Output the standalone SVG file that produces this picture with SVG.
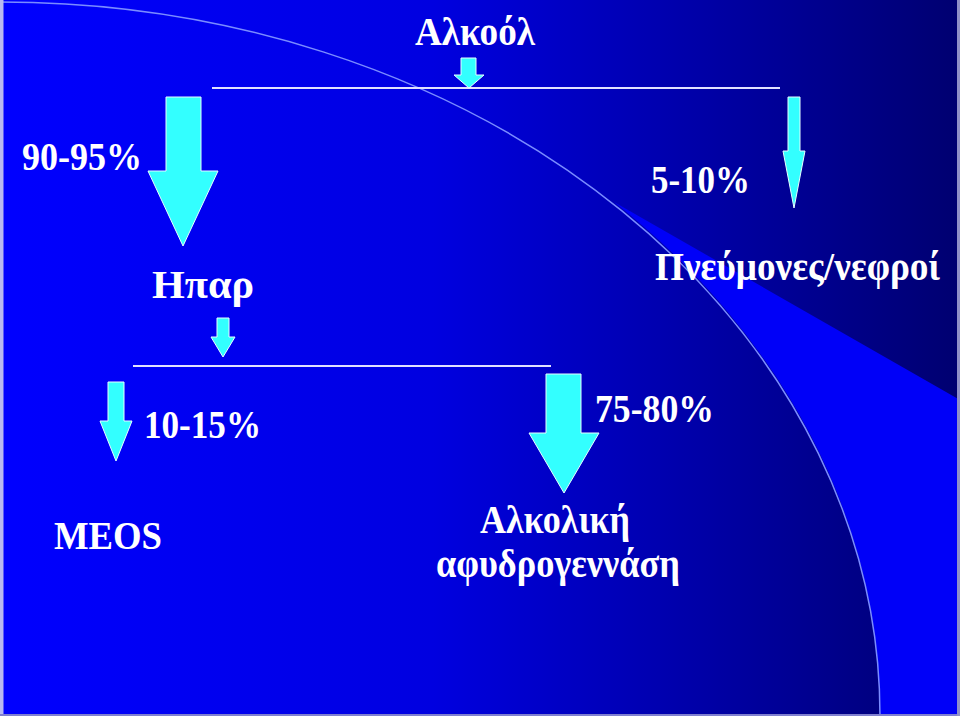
<svg xmlns="http://www.w3.org/2000/svg" width="960" height="716" viewBox="0 0 960 716">
  <defs>
    <linearGradient id="bg" x1="0" y1="0" x2="1" y2="0">
      <stop offset="0" stop-color="#0000FF"/>
      <stop offset="0.45" stop-color="#0000E0"/>
      <stop offset="1" stop-color="#000070"/>
    </linearGradient>
  </defs>
  <style>
    .t { font-family: "Liberation Serif", "Times New Roman", serif; font-weight: bold; font-size: 40px; fill: #FFFFFF; }
    .arr { fill: #33FFFF; stroke: #E6FFFF; stroke-width: 1; }
    .ln { stroke: #E0E0FF; stroke-width: 2; fill: none; }
  </style>

  <!-- background -->
  <rect x="0" y="0" width="960" height="716" fill="url(#bg)"/>
  <!-- bright wedge right of the curve and below the diagonal -->
  <path d="M614,202 L960,400 L960,716 L880,716 A880,714 0 0 0 614,202 Z" fill="#0000F8"/>
  <!-- arc line -->
  <path d="M0,2 A880,714 0 0 1 880,716" fill="none" stroke="#7A8CFF" stroke-width="1.5"/>
  <!-- frame -->
  <rect x="0" y="0" width="3.5" height="716" fill="#B8B8F0"/>
  <rect x="0" y="714" width="960" height="2" fill="#8080D0"/>
  <rect x="957" y="0" width="3" height="716" fill="#9090C8"/>

  <g id="connectors">
    <line class="ln" x1="212" y1="88" x2="780" y2="88"/>
    <line class="ln" x1="133" y1="366" x2="551" y2="366"/>
    <polygon id="arrow-top" class="arr" points="461,58 476,58 476,75 484,75 469,88 454,75 461,75"/>
    <polygon id="arrow-liver" class="arr" points="166,97 201,97 201,171 218,171 183,246 148,171 166,171"/>
    <polygon id="arrow-lungs" class="arr" points="788,97 800,97 800,151 805,151 794,208 783,151 788,151"/>
    <polygon id="arrow-hpar" class="arr" points="217,318 229,318 229,337 235,337 223,357 211,337 217,337"/>
    <polygon id="arrow-meos" class="arr" points="108,382 124,382 124,421 132,421 116,461 100,421 108,421"/>
    <polygon id="arrow-adh" class="arr" points="546,374 581,374 581,433 599,433 564,493 529,433 546,433"/>
  </g>

  <g id="node-alkool"><text class="t" x="415" y="45" textLength="120" lengthAdjust="spacingAndGlyphs">Αλκοόλ</text></g>
  <g id="label-90-95"><text class="t" x="22" y="170" textLength="120" lengthAdjust="spacingAndGlyphs">90-95%</text></g>
  <g id="label-5-10"><text class="t" x="651" y="193" textLength="99" lengthAdjust="spacingAndGlyphs">5-10%</text></g>
  <g id="node-hpar"><text class="t" x="152" y="298" textLength="102" lengthAdjust="spacingAndGlyphs">Ηπαρ</text></g>
  <g id="node-lungs"><text class="t" x="655" y="280" textLength="285" lengthAdjust="spacingAndGlyphs">Πνεύμονες/νεφροί</text></g>
  <g id="label-10-15"><text class="t" x="144" y="438" textLength="117" lengthAdjust="spacingAndGlyphs">10-15%</text></g>
  <g id="label-75-80"><text class="t" x="595" y="422" textLength="119" lengthAdjust="spacingAndGlyphs">75-80%</text></g>
  <g id="node-meos"><text class="t" x="54" y="549" textLength="108" lengthAdjust="spacingAndGlyphs">MEOS</text></g>
  <g id="node-adh">
    <text class="t" x="480" y="533" textLength="150" lengthAdjust="spacingAndGlyphs">Αλκολική</text>
    <text class="t" x="436" y="577" textLength="244" lengthAdjust="spacingAndGlyphs">αφυδρογεννάση</text>
  </g>
</svg>
